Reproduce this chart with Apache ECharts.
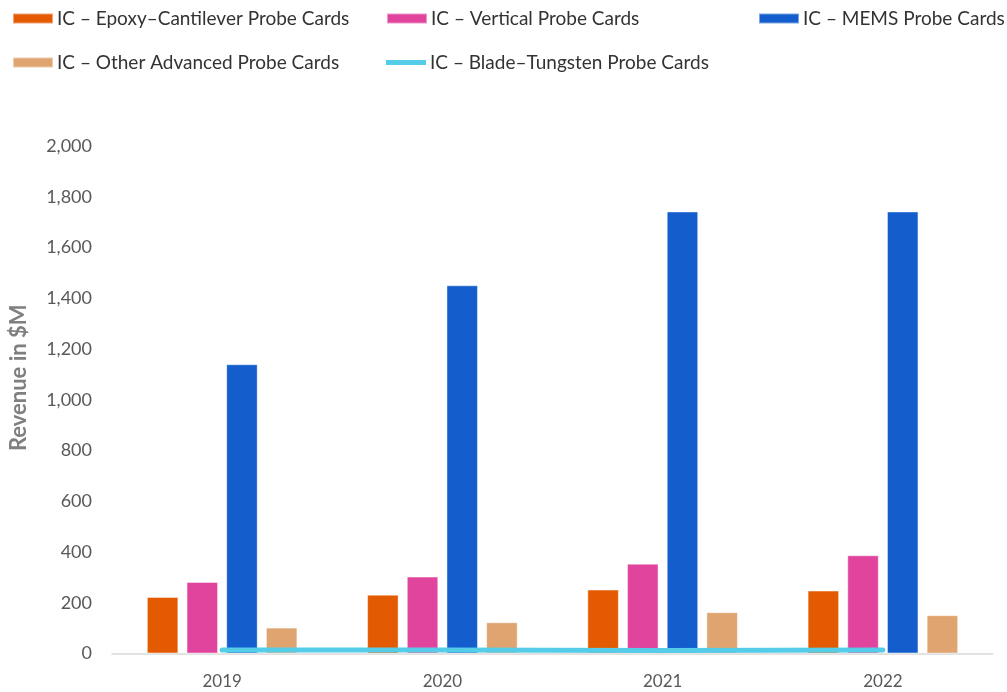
<!DOCTYPE html>
<html><head><meta charset="utf-8">
<script src="https://cdn.jsdelivr.net/npm/echarts@6/dist/echarts.min.js"></script>
<style>html,body{margin:0;padding:0;background:#fff}#c{width:1007px;height:692px}</style>
</head><body><div id="c"></div>
<script>
const categories = ['2019', '2020', '2021', '2022'];
const epoxyCantilever = [223, 232, 252, 248];
const vertical = [282, 303, 354, 387];
const mems = [1140, 1451, 1742, 1742];
const otherAdvanced = [102, 123, 163, 151];
const bladeTungsten = [14, 14, 12, 14];
const yTicks = [0, 200, 400, 600, 800, 1000, 1200, 1400, 1600, 1800, 2000];

const names = ['IC – Epoxy–Cantilever Probe Cards','IC – Vertical Probe Cards','IC – MEMS Probe Cards','IC – Other Advanced Probe Cards','IC – Blade–Tungsten Probe Cards'];
const colors = ['#E35A00','#E0449C','#135ECC','#DFA46F','#55CDE9'];
const font = 'Lato, "Open Sans", sans-serif';
const legendPos = [[7,4],[381,4],[753,4],[7,48],[381,48]];
const chart = echarts.init(document.getElementById('c'));
const barStyle = c => ({color: c, borderColor: 'rgba(255,255,255,0.45)', borderWidth: 1});
chart.setOption({
  animation: false,
  textStyle: {fontFamily: font},
  legend: names.map((n,i) => ({
    data: [i === 4 ? {name: n, icon: 'path://M0,0 L40,0 L40,5 L0,5 Z'} : {name: n, icon: 'rect'}],
    left: legendPos[i][0], top: legendPos[i][1],
    itemWidth: 40, itemHeight: i === 4 ? 5 : 10, itemGap: 4,
    textStyle: {fontSize: 19, color: '#333', fontFamily: font, padding: [0,0,0,-1]}
  })),
  grid: {left: 111, right: 14, top: 146, bottom: 38.5, containLabel: false},
  xAxis: {
    type: 'category', data: categories,
    axisLine: {lineStyle: {color: '#D9D9D9', width: 1.5}},
    axisTick: {show: false},
    axisLabel: {fontSize: 17, color: '#595959', margin: 20, fontFamily: font}
  },
  yAxis: {
    type: 'value', min: yTicks[0], max: yTicks[yTicks.length-1], interval: 200,
    name: 'Revenue in $M', nameLocation: 'middle', nameGap: 82,
    nameTextStyle: {fontSize: 22, color: '#7F7F7F', fontWeight: 'bold', fontFamily: font, padding: [0,0,0,44]},
    axisLine: {show: false}, axisTick: {show: false}, splitLine: {show: false},
    axisLabel: {fontSize: 18, color: '#595959', margin: 20, fontFamily: font,
      formatter: v => v.toLocaleString('en-US')}
  },
  series: [
    {name: names[0], type: 'bar', data: epoxyCantilever, itemStyle: barStyle(colors[0]), barWidth: '14.3%', barGap: '26%'},
    {name: names[1], type: 'bar', data: vertical, itemStyle: barStyle(colors[1]), barWidth: '14.3%', barGap: '26%'},
    {name: names[2], type: 'bar', data: mems, itemStyle: barStyle(colors[2]), barWidth: '14.3%', barGap: '26%'},
    {name: names[3], type: 'bar', data: otherAdvanced, itemStyle: barStyle(colors[3]), barWidth: '14.3%', barGap: '26%'},
    {name: names[4], type: 'line', data: bladeTungsten, symbol: 'none', z: 5,
      lineStyle: {color: colors[4], width: 5, cap: 'round'}, itemStyle: {color: colors[4]}}
  ]
});
</script></body></html>
